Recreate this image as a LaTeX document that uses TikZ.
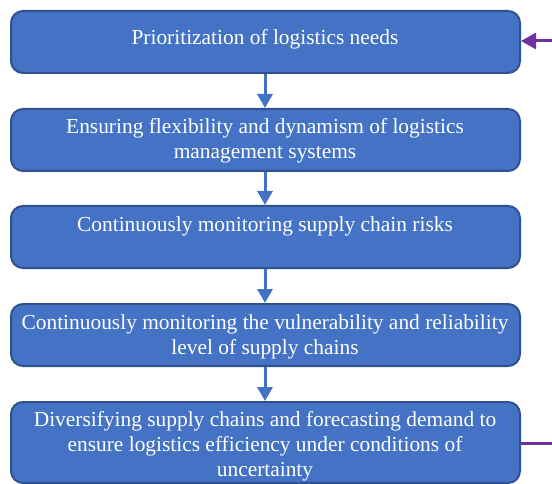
\documentclass[tikz,border=0pt]{standalone}
\usepackage{fontspec}
\setmainfont{Liberation Serif}
\usetikzlibrary{arrows.meta}
\definecolor{boxfill}{HTML}{4472C4}
\definecolor{boxline}{HTML}{2F528F}
\definecolor{purp}{HTML}{7030A0}
\begin{document}
\begin{tikzpicture}[x=1pt,y=-1pt,
  stepbox/.style={draw=boxline,fill=boxfill,line width=2pt,rounded corners=12pt,
    minimum width=509pt,minimum height=62pt,inner sep=0pt,anchor=north west},
  boxtext/.style={text=white,font=\fontsize{21.4}{25}\selectfont,align=center,inner sep=0pt},
  flow/.style={draw=boxfill,line width=3pt,-{Triangle[length=14pt,width=15pt]}},
  back/.style={draw=purp,line width=3pt}]
\useasboundingbox (0,0) rectangle (552,484);
\node[stepbox] (b1) at (10,10) {};
\node[stepbox] (b2) at (10,108) {};
\node[stepbox] (b3) at (10,205) {};
\node[stepbox] (b4) at (10,303) {};
\node[stepbox,minimum height=81pt] (b5) at (10,401) {};
\node[boxtext] (t1) at (265,39) {Prioritization of logistics needs};
\node[boxtext] (t2) at (265,141) {Ensuring flexibility and dynamism of logistics\\management systems};
\node[boxtext] (t3) at (265,226) {Continuously monitoring supply chain risks};
\node[boxtext] (t4) at (265,337) {Continuously monitoring the vulnerability and reliability\\level of supply chains};
\node[boxtext] (t5) at (265,446) {Diversifying supply chains and forecasting demand to\\ensure logistics efficiency under conditions of\\uncertainty};
\draw[flow] (b1.south -| 265,0) -- (b2.north -| 265,0);
\draw[flow] (b2.south -| 265,0) -- (b3.north -| 265,0);
\draw[flow] (b3.south -| 265,0) -- (b4.north -| 265,0);
\draw[flow] (b4.south -| 265,0) -- (b5.north -| 265,0);
\coordinate (inR) at (553,41);
\coordinate (outR) at (553,443);
\draw[back,-{Triangle[length=15pt,width=16pt]}] (inR) -- (inR -| b1.east);
\draw[back] (outR -| b5.east) -- (outR);
\end{tikzpicture}
\end{document}
